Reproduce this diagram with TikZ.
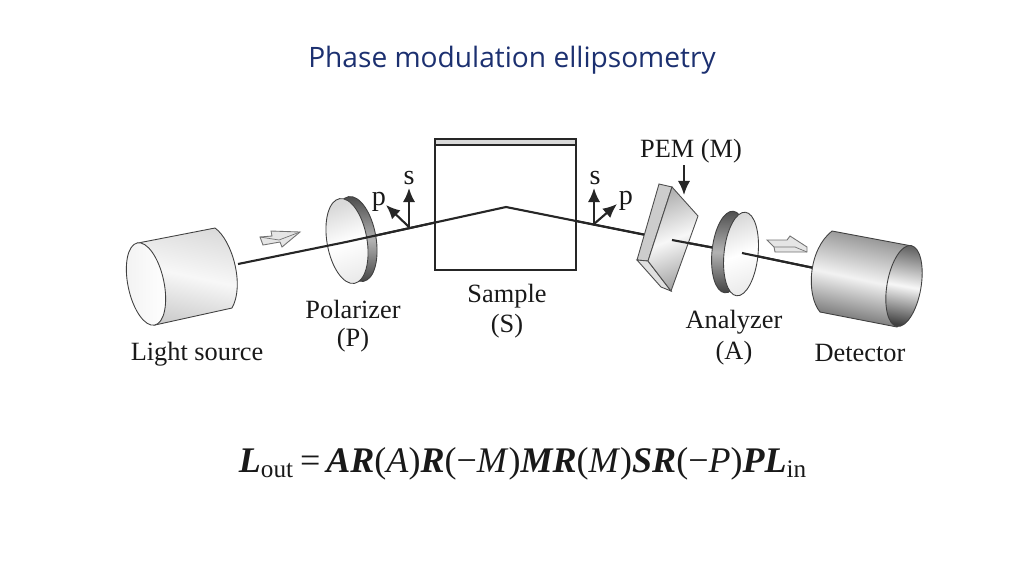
\documentclass[tikz,border=0pt]{standalone}
\usepackage{fontspec}
\usetikzlibrary{arrows.meta}
\setmainfont{Liberation Serif}
\newfontfamily\titelfont{Open Sans}
\definecolor{titelblau}{RGB}{28,48,112}
\def\fett#1{\textbf{\textit{#1}}}
\def\scheibe#1#2#3#4{
	\path[rand] (#1) ellipse [x radius=#3,y radius=#4,rotate=#2];
}
\tikzset{
	rand/.style={draw=black!75,line width=0.5pt,top color=black!70,bottom color=black!75,middle color=black!30,shading angle=#1},
	rand/.default=0,
	flaeche/.style={draw=black!75,line width=0.5pt,top color=black!15,bottom color=black!8,middle color=white,shading angle=20},
	zylinder/.style={draw=black!75,line width=0.5pt,top color=black!14,bottom color=black!20,middle color=black!3,shading angle=-12},
	dunkel/.style={draw=black!75,line width=0.5pt,top color=black!45,bottom color=black!60,middle color=black!5,shading angle=-12},
	strahl/.style={black!85,line width=1.2pt},
	pfeil/.style={-{Latex[length=8pt,width=7pt]},black!85,line width=1.2pt},
	blockpfeil/.style={draw=black!55,fill=black!10,line width=0.5pt},
	beschriftung/.style={font=\fontsize{15}{17}\selectfont,inner sep=0pt,text=black!90},
	kleinbuchstabe/.style={beschriftung,font=\fontsize{16}{18}\selectfont},
}
\begin{document}
\begin{tikzpicture}[x=0.02cm,y=-0.02cm]
\useasboundingbox (0,0) rectangle (1024,576);
\node[font=\titelfont\fontsize{16}{19}\selectfont,text=titelblau,inner sep=0pt] (titel) at (512,60) {Phase modulation ellipsometry};
% Strahlengang
\coordinate (quelle) at (238,264);
\coordinate (polmitte) at (346,242);
\coordinate (probe) at (506,207);
\coordinate (pemrand) at (646,235);
\coordinate (pemmitte) at (672,240);
\coordinate (anamitte) at (742,253);
\coordinate (detektor) at (814,268);
\draw[strahl] (polmitte) -- (probe);
\draw[strahl] (probe) -- (pemrand);
\draw[strahl] (pemmitte) -- (anamitte);
\draw[strahl] (anamitte) -- (detektor);
% Lichtquelle
\path[zylinder] (138,243) -- (215,228) .. controls (232,240) and (245,285) .. (232,308) -- (155,325) -- cycle;
\path[draw=black!75,line width=0.5pt,left color=black!5,right color=white] (146,284) ellipse [x radius=18,y radius=42,rotate=12];
% Polarisator
\coordinate (polrand) at (356,239);
\scheibe{polrand}{10}{20}{43}
\path[flaeche] (347,241) ellipse [x radius=20,y radius=43,rotate=10];
\draw[strahl] (quelle) -- (polmitte);
% Probe
\draw[black!85,line width=1.2pt,fill=white] (435,139) rectangle (576,270);
\draw[black!85,line width=1.2pt,fill=black!15] (435,139) rectangle (576,145);
\draw[strahl] (polmitte) -- (probe);
\draw[strahl] (probe) -- (pemrand);
% PEM
\draw[draw=black!70,line width=0.5pt,fill=black!20] (659,184) -- (672,187) -- (648,261) -- (637,260) -- cycle;
\draw[draw=black!70,line width=0.5pt,fill=black!12] (637,260) -- (648,261) -- (671,291) -- (661,287) -- cycle;
\path[draw=black!70,line width=0.5pt,left color=black!30,right color=black!35,middle color=black!3,shading angle=20] (672,187) -- (698,216) -- (671,291) -- (648,261) -- cycle;
\draw[strahl] (pemmitte) -- (anamitte);
% Analysator
\coordinate (anarand) at (729,252);
\scheibe{anarand}{-6}{17}{41}
\path[flaeche] (741,254) ellipse [x radius=17,y radius=42,rotate=-6];
\draw[strahl] (anamitte) -- (detektor);
% Detektor
\path[dunkel] (832,231) -- (912,246) -- (897,327) -- (820,312) .. controls (806,295) and (808,250) .. (832,231) -- cycle;
\path[draw=black!75,line width=0.5pt,top color=black!60,bottom color=black!75,middle color=black!3,shading angle=-10] (904,286) ellipse [x radius=17,y radius=41,rotate=-10];
% Blockpfeile
\draw[blockpfeil] (260,237) -- (272,236) -- (271,231) -- (300,232) -- (282,247) -- (280,242) -- (263,245) -- cycle;
\draw[blockpfeil] (767,240) -- (787,240) -- (790,236) -- (807,247) -- (807,252) -- (775,252) -- (774,247) -- cycle;
\draw[black!55,line width=0.4pt] (260,237) -- (279,240) -- (300,232);
\draw[black!55,line width=0.4pt] (774,247) -- (795,247) -- (807,252);
% Polarisationsrichtungen
\coordinate (pol0) at (409,227);
\coordinate (pols) at (409,188);
\coordinate (polp) at (386,205);
\coordinate (ana0) at (594,224);
\coordinate (anas) at (594,188);
\coordinate (anap) at (617,204);
\coordinate (pemspitze) at (684,195);
\draw[pfeil] (pol0) -- (pols);
\draw[pfeil] (pol0) -- (polp);
\draw[pfeil] (ana0) -- (anas);
\draw[pfeil] (ana0) -- (anap);
% Beschriftung
\node[kleinbuchstabe] (ss) at (409,178) {s};
\node[kleinbuchstabe] (sp) at (379,202) {p};
\node[kleinbuchstabe] (as) at (595,178) {s};
\node[kleinbuchstabe] (ap) at (626,201) {p};
\node[beschriftung] (pem) at (691,151) {PEM (M)};
\draw[pfeil] (684,165) -- (pemspitze);
\node[beschriftung] (lampe) at (197,354) {Light source};
\node[beschriftung] (pol1) at (353,309) {Polarizer};
\node[beschriftung] (pol2) at (353,340) {(P)};
\node[beschriftung] (prb1) at (507,296) {Sample};
\node[beschriftung] (prb2) at (507,326) {(S)};
\node[beschriftung] (ana1) at (734,322) {Analyzer};
\node[beschriftung] (ana2) at (734,353) {(A)};
\node[beschriftung] (det) at (860,353) {Detector};
\node[font=\fontsize{20.5}{24}\selectfont,inner sep=0pt,anchor=base,text=black!90] (gleichung) at (523,472) {\fett{L}\textsubscript{out}\,=\,\fett{AR}(\textit{A})\fett{R}(−\textit{M})\fett{MR}(\textit{M})\fett{SR}(−\textit{P})\fett{PL}\textsubscript{in}};
\end{tikzpicture}
\end{document}
